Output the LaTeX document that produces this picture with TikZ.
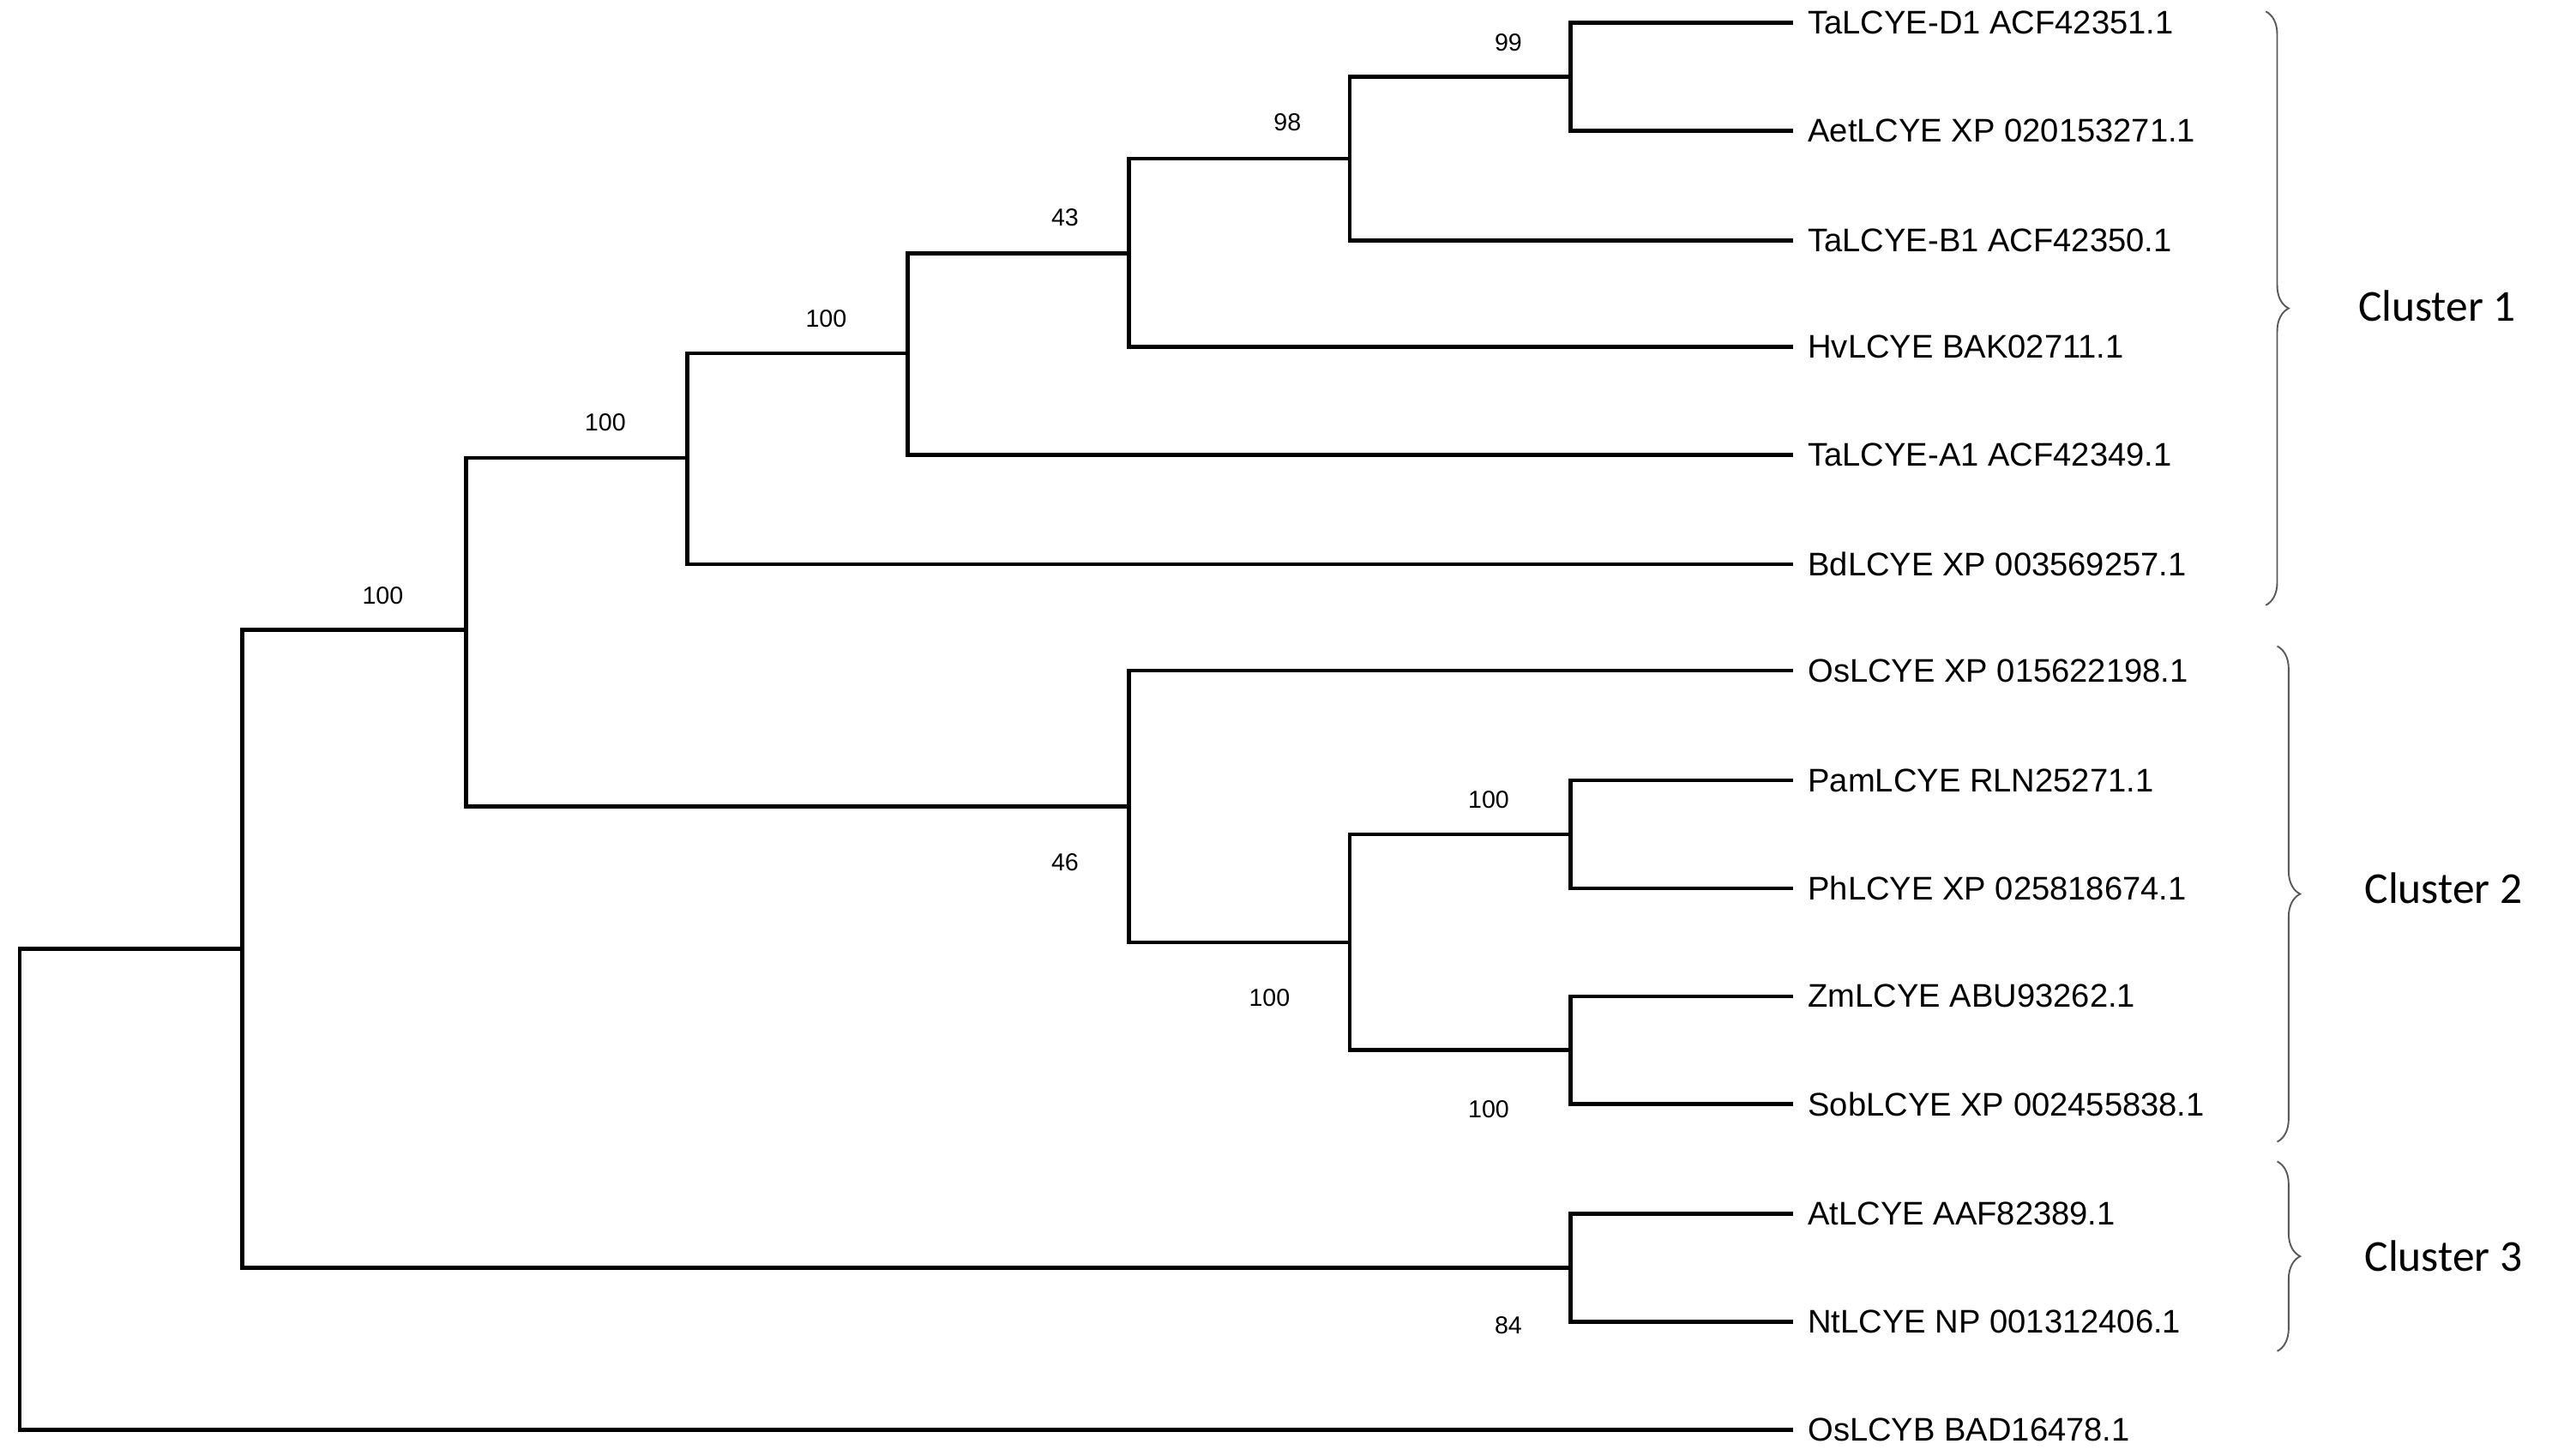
\documentclass[tikz,border=0pt]{standalone}
\usepackage{fontspec}
\setmainfont{Liberation Sans}
\newfontfamily\clusterfont{Carlito}
\usetikzlibrary{positioning,decorations.pathreplacing}
\tikzset{
  branch/.style={line width=2.4pt, line cap=rect},
  leaf/.style={anchor=west, font=\fontsize{20}{22}\selectfont, inner sep=0pt},
  boot/.style={font=\fontsize{15}{17}\selectfont, inner sep=0pt},
  clbrace/.style={decorate, decoration={brace,amplitude=14pt}, line width=1pt, gray!70!black},
  cltext/.style={anchor=west, font=\clusterfont\fontsize{27}{30}\selectfont}
}
\begin{document}
\begin{tikzpicture}[x=1pt,y=-1pt]
\useasboundingbox (0,0) rectangle (1560,890);

% leaves
\coordinate (l1) at (1095,14);
\coordinate (l2) at (1095,80);
\coordinate (l3) at (1095,147);
\coordinate (l4) at (1095,212);
\coordinate (l5) at (1095,278);
\coordinate (l6) at (1095,345);
\coordinate (l7) at (1095,410);
\coordinate (l8) at (1095,477);
\coordinate (l9) at (1095,543);
\coordinate (l10) at (1095,609);
\coordinate (l11) at (1095,675);
\coordinate (l12) at (1095,742);
\coordinate (l13) at (1095,808);
\coordinate (l14) at (1095,874);

\node[leaf, right=10pt of l1] {TaLCYE-D1 ACF42351.1};
\node[leaf, right=10pt of l2] {AetLCYE XP 020153271.1};
\node[leaf, right=10pt of l3] {TaLCYE-B1 ACF42350.1};
\node[leaf, right=10pt of l4] {HvLCYE BAK02711.1};
\node[leaf, right=10pt of l5] {TaLCYE-A1 ACF42349.1};
\node[leaf, right=10pt of l6] {BdLCYE XP 003569257.1};
\node[leaf, right=10pt of l7] {OsLCYE XP 015622198.1};
\node[leaf, right=10pt of l8] {PamLCYE RLN25271.1};
\node[leaf, right=10pt of l9] {PhLCYE XP 025818674.1};
\node[leaf, right=10pt of l10] {ZmLCYE ABU93262.1};
\node[leaf, right=10pt of l11] {SobLCYE XP 002455838.1};
\node[leaf, right=10pt of l12] {AtLCYE AAF82389.1};
\node[leaf, right=10pt of l13] {NtLCYE NP 001312406.1};
\node[leaf, right=10pt of l14] {OsLCYB BAD16478.1};

% internal nodes
\coordinate (ta) at (960,47);
\coordinate (tb) at (825,97);
\coordinate (tc) at (690,155);
\coordinate (td) at (555,216);
\coordinate (te) at (420,280);
\coordinate (pp) at (960,510);
\coordinate (zs) at (960,642);
\coordinate (pz) at (825,576);
\coordinate (op) at (690,493);
\coordinate (mono) at (285,385);
\coordinate (an) at (960,775);
\coordinate (lcye) at (148,580);
\coordinate (root) at (12,727);

\draw[branch] (l1) -| (ta) |- (l2);
\draw[branch] (ta) -| (tb) |- (l3);
\draw[branch] (tb) -| (tc) |- (l4);
\draw[branch] (tc) -| (td) |- (l5);
\draw[branch] (td) -| (te) |- (l6);
\draw[branch] (l8) -| (pp) |- (l9);
\draw[branch] (l10) -| (zs) |- (l11);
\draw[branch] (pp) -| (pz) |- (zs);
\draw[branch] (l7) -| (op) |- (pz);
\draw[branch] (te) -| (mono) |- (op);
\draw[branch] (l12) -| (an) |- (l13);
\draw[branch] (mono) -| (lcye) |- (an);
\draw[branch] (lcye) -| (root) |- (l14);

% bootstrap values
\node[boot] (b1) at (922,26) {99};
\node[boot] (b2) at (787,75) {98};
\node[boot] (b3) at (651,133) {43};
\node[boot] (b4) at (505,195) {100};
\node[boot] (b5) at (370,258) {100};
\node[boot] (b6) at (234,364) {100};
\node[boot] (b7) at (651,527) {46};
\node[boot] (b8) at (910,489) {100};
\node[boot] (b9) at (776,610) {100};
\node[boot] (b10) at (910,678) {100};
\node[boot] (b11) at (922,810) {84};

% clusters
\coordinate (c1t) at (1385,7);
\coordinate (c1b) at (1385,370);
\coordinate (c2t) at (1392,395);
\coordinate (c2b) at (1392,698);
\coordinate (c3t) at (1392,710);
\coordinate (c3b) at (1392,826);
\draw[clbrace] (c1t) -- (c1b);
\draw[clbrace] (c2t) -- (c2b);
\draw[clbrace] (c3t) -- (c3b);
\node[cltext] (k1) at (1438,187) {Cluster 1};
\node[cltext] (k2) at (1442,543) {Cluster 2};
\node[cltext] (k3) at (1442,768) {Cluster 3};
\end{tikzpicture}
\end{document}
